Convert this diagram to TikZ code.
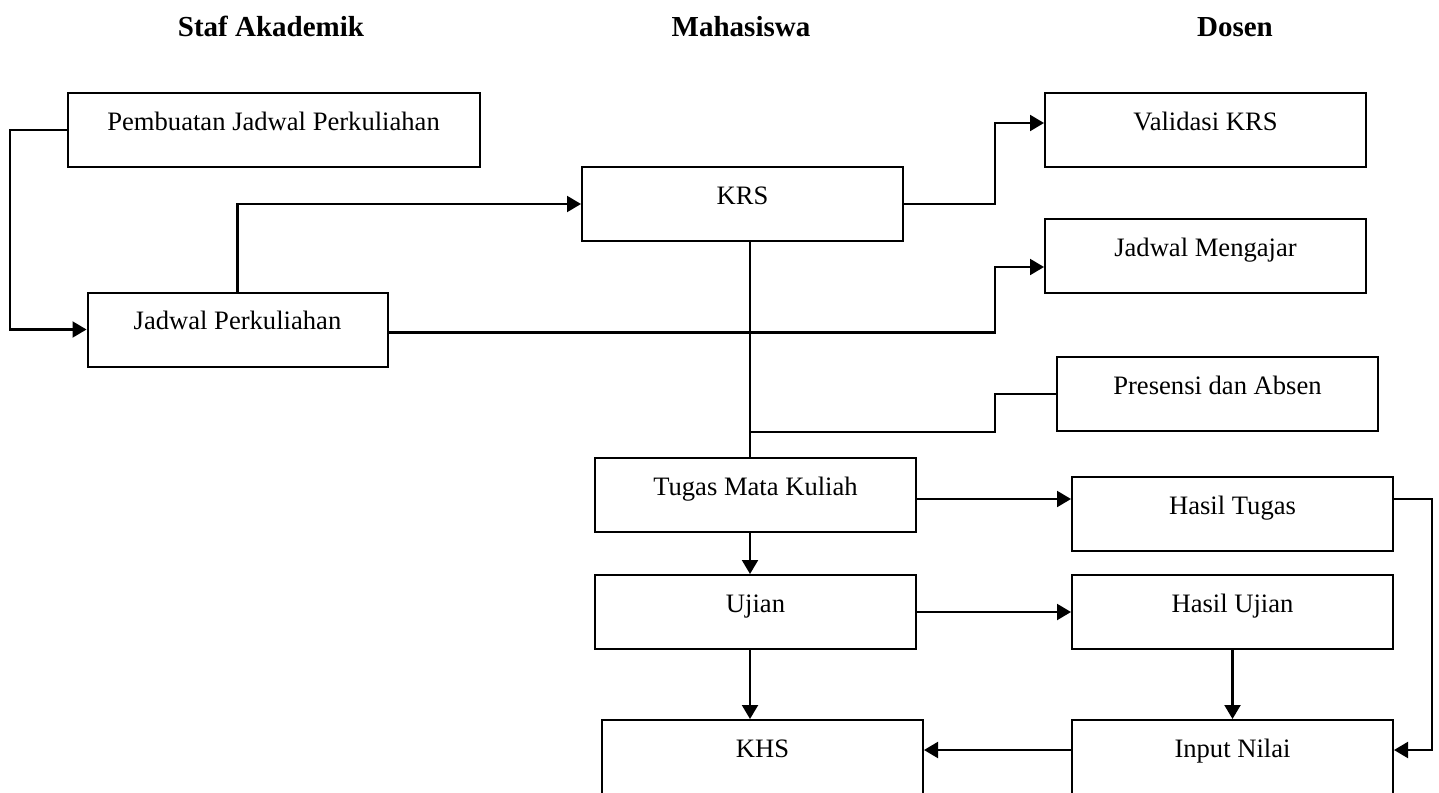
\documentclass[tikz,border=0pt]{standalone}
\usepackage{fontspec}
\setmainfont{Liberation Serif}
\usetikzlibrary{arrows.meta}

\tikzset{
	kotak/.style = {draw, line width = 1pt, rectangle, inner xsep = 0pt, inner ysep = 0pt, minimum width = 160.5pt, text height = 18.5pt, text depth = 18.5pt, font = \fontsize{13.3}{16}\selectfont},
	judul/.style = {anchor = base, font = \fontsize{14.5}{17}\selectfont\bfseries},
	garis/.style = {line width = 1.05pt},
	panah/.style = {garis, -{Triangle[length = 7pt, width = 8pt]}}
}

\begin{document}
\begin{tikzpicture}[x = 0.5pt, y = -0.5pt]
	\useasboundingbox (0,0) rectangle (1439,792);
	\fill [white] (0,0) rectangle (1439,792);
	% judul kolom
	\node [judul] (staf) at (271,37) {Staf Akademik};
	\node [judul] (mhs) at (741,37) {Mahasiswa};
	\node [judul] (dosen) at (1235,37) {Dosen};
	% kotak proses
	\node [kotak, minimum width = 206pt] (pjp) at (273.6,130) {Pembuatan Jadwal Perkuliahan};
	\node [kotak, minimum width = 150pt] (jp) at (237.5,329.5) {Jadwal Perkuliahan};
	\node [kotak] (krs) at (742.5,204) {KRS};
	\node [kotak] (vk) at (1205.5,130) {Validasi KRS};
	\node [kotak] (jm) at (1205.5,256) {Jadwal Mengajar};
	\node [kotak] (pa) at (1217.5,394) {Presensi dan Absen};
	\node [kotak] (tmk) at (755.5,495) {Tugas Mata Kuliah};
	\node [kotak] (uj) at (755.5,612) {Ujian};
	\node [kotak] (khs) at (762.5,757) {KHS};
	\node [kotak] (ht) at (1232.5,514) {Hasil Tugas};
	\node [kotak] (hu) at (1232.5,612) {Hasil Ujian};
	\node [kotak] (inp) at (1232.5,757) {Input Nilai};
	% garis penghubung
	\coordinate (belok) at (995,0);
	\coordinate (tengah) at (750,0);
	\draw [panah] (pjp.west) -- ++(-57,0) |- (jp.west);
	\draw [panah] (jp.north) |- (krs.west);
	\draw [panah] ([yshift = -1.5pt]jp.east) -- ([yshift = -1.5pt]jp.east -| belok) |- ([yshift = -5.5pt]jm.west);
	\draw [panah] (krs.east) -- (krs.east -| belok) |- ([yshift = 3.5pt]vk.west);
	\draw [garis] (krs.south -| tengah) -- (tmk.north -| tengah);
	\draw [garis] (pa.west) -- (pa.west -| belok) |- (pa.south -| tengah);
	\draw [panah] ([yshift = -2pt]tmk.east) -- ([yshift = -2pt]tmk.east -| ht.west);
	\draw [panah] (uj.east) -- (hu.west);
	\foreach \a/\b in {tmk/uj, uj/khs}
		\draw [panah] (\a.south -| tengah) -- (\b.north -| tengah);
	\draw [panah] (hu.south) -- (inp.north);
	\draw [panah] ([yshift = 7.5pt]ht.east) -- ++(38,0) |- ([yshift = 3.5pt]inp.east);
	\draw [panah] ([yshift = 3.5pt]inp.west) -- ([yshift = 3.5pt]khs.east);
\end{tikzpicture}
\end{document}
